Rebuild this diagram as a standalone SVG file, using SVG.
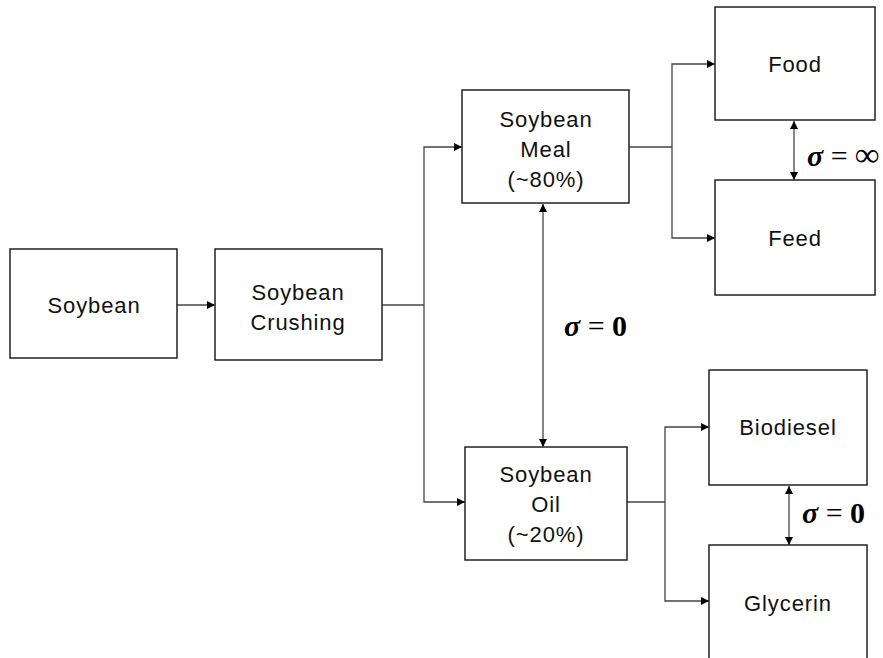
<svg xmlns="http://www.w3.org/2000/svg" width="883" height="658" viewBox="0 0 883 658">
<defs>
<style>
.box{fill:#fff;stroke:#222;stroke-width:1.5}
.lbl{font-family:"Liberation Sans",Arial,sans-serif;font-size:22px;letter-spacing:0.9px;fill:#111;text-anchor:middle}
.con{fill:none;stroke:#444;stroke-width:1.3}
.sig{font-family:"Liberation Serif","Times New Roman",serif;font-size:30px;fill:#000}
.s{font-style:italic;font-weight:bold}
.b{font-weight:bold}
</style>
<marker id="ah" viewBox="0 0 10 10" refX="10" refY="5" markerWidth="8" markerHeight="8" markerUnits="userSpaceOnUse" orient="auto-start-reverse">
<path d="M0,0 L10,5 L0,10 z" fill="#000"/>
</marker>
</defs>
<rect width="883" height="658" fill="#fff"/>
<g id="connectors">
<line class="con" x1="177" y1="305" x2="215" y2="305" marker-end="url(#ah)"/>
<polyline class="con" points="382,305 424,305"/>
<polyline class="con" points="462,147 424,147 424,502 465,502" marker-start="url(#ah)" marker-end="url(#ah)"/>
<polyline class="con" points="629,147 672,147"/>
<polyline class="con" points="715,64 672,64 672,238 715,238" marker-start="url(#ah)" marker-end="url(#ah)"/>
<polyline class="con" points="627,502 665,502"/>
<polyline class="con" points="709,427 665,427 665,601 709,601" marker-start="url(#ah)" marker-end="url(#ah)"/>
<line class="con" x1="543" y1="204" x2="543" y2="447" marker-start="url(#ah)" marker-end="url(#ah)"/>
<line class="con" x1="794" y1="121" x2="794" y2="180" marker-start="url(#ah)" marker-end="url(#ah)"/>
<line class="con" x1="789" y1="486" x2="789" y2="545" marker-start="url(#ah)" marker-end="url(#ah)"/>
</g>
<g id="soybean"><rect class="box" x="10" y="249" width="167" height="109"/><text class="lbl" x="94" y="313">Soybean</text></g>
<g id="crushing"><rect class="box" x="215" y="249" width="167" height="111"/><text class="lbl" x="298" y="300">Soybean</text><text class="lbl" x="298" y="330">Crushing</text></g>
<g id="meal"><rect class="box" x="462" y="90" width="167" height="113"/><text class="lbl" x="546" y="127">Soybean</text><text class="lbl" x="546" y="157">Meal</text><text class="lbl" x="546" y="187">(~80%)</text></g>
<g id="oil"><rect class="box" x="465" y="447" width="162" height="113"/><text class="lbl" x="546" y="482">Soybean</text><text class="lbl" x="546" y="512">Oil</text><text class="lbl" x="546" y="542">(~20%)</text></g>
<g id="food"><rect class="box" x="715" y="7" width="160" height="113"/><text class="lbl" x="795" y="72">Food</text></g>
<g id="feed"><rect class="box" x="715" y="180" width="160" height="115"/><text class="lbl" x="795" y="246">Feed</text></g>
<g id="biodiesel"><rect class="box" x="709" y="370" width="158" height="115"/><text class="lbl" x="788" y="435">Biodiesel</text></g>
<g id="glycerin"><rect class="box" x="709" y="545" width="158" height="120"/><text class="lbl" x="788" y="611">Glycerin</text></g>
<g id="sigmas">
<text class="sig" x="807" y="166"><tspan class="s">σ</tspan> = <tspan class="b" font-size="34">∞</tspan></text>
<text class="sig" x="564" y="336"><tspan class="s">σ</tspan> = <tspan class="b">0</tspan></text>
<text class="sig" x="802" y="523"><tspan class="s">σ</tspan> = <tspan class="b">0</tspan></text>
</g>
</svg>
